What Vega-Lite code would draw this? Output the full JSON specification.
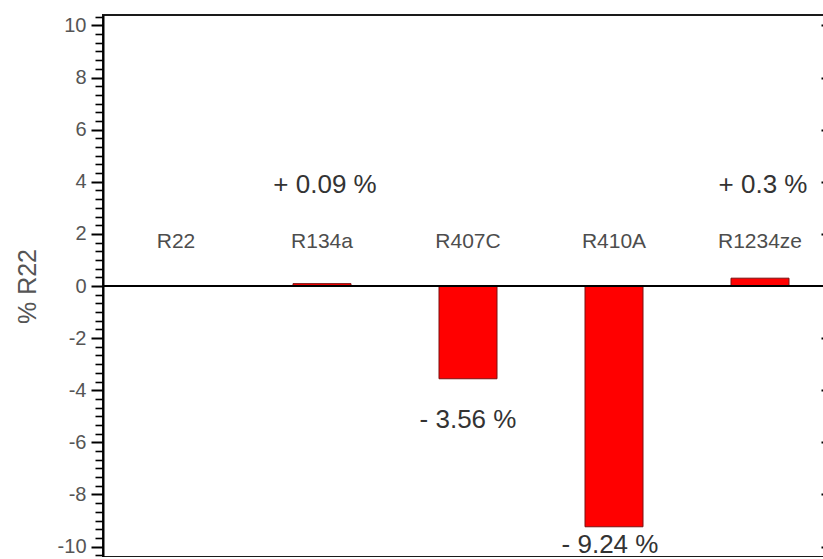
{
  "$schema": "https://vega.github.io/schema/vega-lite/v6.json",
  "width": 730,
  "height": 542,
  "autosize": "none",
  "padding": {"left": 103, "top": 15, "right": 0, "bottom": 0},
  "background": "white",
  "config": {
    "view": {"stroke": "#1a1a1a", "strokeWidth": 2},
    "font": "Liberation Sans"
  },
  "data": {
    "values": [
      {"refrigerant": "R22", "change": 0, "label": ""},
      {"refrigerant": "R134a", "change": 0.09, "label": "+ 0.09 %"},
      {"refrigerant": "R407C", "change": -3.56, "label": "- 3.56 %"},
      {"refrigerant": "R410A", "change": -9.24, "label": "- 9.24 %"},
      {"refrigerant": "R1234ze", "change": 0.3, "label": "+ 0.3 %"}
    ]
  },
  "encoding": {
    "x": {
      "field": "refrigerant",
      "type": "nominal",
      "sort": null,
      "axis": null,
      "scale": {"paddingInner": 0, "paddingOuter": 0}
    }
  },
  "layer": [
    {
      "mark": {"type": "bar", "color": "#ff0000", "stroke": "#7a1010", "strokeWidth": 1, "size": 58},
      "encoding": {
        "y": {
          "field": "change",
          "type": "quantitative",
          "scale": {"domain": [-10.4, 10.4], "nice": false, "zero": false},
          "axis": {
            "orient": "left",
            "title": "% R22",
            "titleFontSize": 25,
            "titleFontWeight": "normal",
            "titleColor": "#555555",
            "titlePadding": 17,
            "grid": false,
            "domainColor": "#000000",
            "domainWidth": 2,
            "tickColor": "#000000",
            "tickSize": {"condition": {"test": "abs(datum.value - round(datum.value/2)*2) < 0.01", "value": 12}, "value": 8},
            "tickWidth": {"condition": {"test": "abs(datum.value - round(datum.value/2)*2) < 0.01", "value": 2}, "value": 1.6},
            "labelFontSize": 20,
            "labelColor": "#555555",
            "labelPadding": 5,
            "labelFlush": false,
            "labelOverlap": false,
            "labelExpr": "abs(datum.value - round(datum.value/2)*2) < 0.01 ? '' + round(datum.value) : ''",
            "values": [-10.3333, -10, -9.6667, -9.3333, -9, -8.6667, -8.3333, -8, -7.6667, -7.3333, -7, -6.6667, -6.3333, -6, -5.6667, -5.3333, -5, -4.6667, -4.3333, -4, -3.6667, -3.3333, -3, -2.6667, -2.3333, -2, -1.6667, -1.3333, -1, -0.6667, -0.3333, 0, 0.3333, 0.6667, 1, 1.3333, 1.6667, 2, 2.3333, 2.6667, 3, 3.3333, 3.6667, 4, 4.3333, 4.6667, 5, 5.3333, 5.6667, 6, 6.3333, 6.6667, 7, 7.3333, 7.6667, 8, 8.3333, 8.6667, 9, 9.3333, 9.6667, 10, 10.3333]
          }
        }
      }
    },
    {
      "mark": {"type": "rule", "color": "#000000", "strokeWidth": 1.5},
      "encoding": {"x": null, "y": {"datum": 0, "type": "quantitative", "axis": null}}
    },
    {
      "mark": {"type": "text", "fontSize": 21, "color": "#4d4d4d", "baseline": "middle", "align": "center"},
      "encoding": {
        "y": {"datum": 1.7, "type": "quantitative", "axis": null},
        "text": {"field": "refrigerant"}
      }
    },
    {
      "transform": [{"filter": "datum.change > 0"}],
      "mark": {"type": "text", "fontSize": 26, "color": "#333333", "baseline": "middle", "align": "center", "dx": 3},
      "encoding": {
        "y": {"datum": 3.88, "type": "quantitative", "axis": null},
        "text": {"field": "label"}
      }
    },
    {
      "transform": [{"filter": "datum.refrigerant == 'R407C'"}],
      "mark": {"type": "text", "fontSize": 26, "color": "#333333", "baseline": "middle", "align": "center"},
      "encoding": {
        "y": {"datum": -5.14, "type": "quantitative", "axis": null},
        "text": {"field": "label"}
      }
    },
    {
      "transform": [{"filter": "datum.refrigerant == 'R410A'"}],
      "mark": {"type": "text", "fontSize": 26, "color": "#333333", "baseline": "middle", "align": "center", "dx": -4},
      "encoding": {
        "y": {"datum": -9.94, "type": "quantitative", "axis": null},
        "text": {"field": "label"}
      }
    },
    {
      "mark": {"type": "rule", "opacity": 0},
      "encoding": {
        "x": null,
        "y": {
          "datum": 0,
          "type": "quantitative",
          "axis": {
            "orient": "right",
            "title": null,
            "grid": false,
            "domain": false,
            "labels": false,
            "offset": -12,
            "tickSize": 3,
            "tickWidth": 2,
            "tickColor": "#000000",
            "values": [-10, -8, -6, -4, -2, 2, 4, 6, 8, 10]
          }
        }
      }
    }
  ],
  "resolve": {"axis": {"y": "independent"}}
}
